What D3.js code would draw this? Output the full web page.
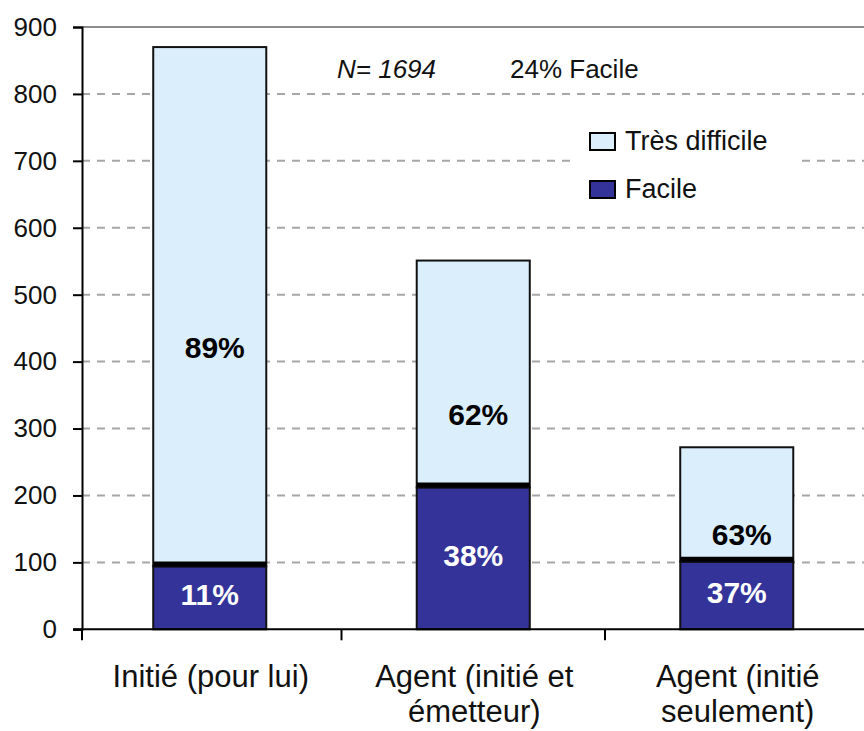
<!DOCTYPE html>
<html>
<head>
<meta charset="utf-8">
<script src="https://cdn.jsdelivr.net/npm/d3@7"></script>
<style>
	body{margin:0;background:#fff;}
	svg{display:block;font-family:"Liberation Sans", Arial, sans-serif;}
</style>
</head>
<body>
<div id="chart"></div>
<script>
// data
var categories = ["Initié (pour lui)", "Agent (initié et émetteur)", "Agent (initié seulement)"];
var categoryLines = [["Initié (pour lui)"], ["Agent (initié et", "émetteur)"], ["Agent (initié", "seulement)"]];
var facile = [94, 212, 101];
var tresDifficile = [776, 339, 171];
var pctFacile = ["11%", "38%", "37%"];
var pctTres = ["89%", "62%", "63%"];
var seriesNames = ["Très difficile", "Facile"];
var yTicks = [0, 100, 200, 300, 400, 500, 600, 700, 800, 900];
var noteN = "N= 1694";
var noteFacile = "24% Facile";

var W = 864, H = 731;
var colDark = "#333399", colLight = "#dbeefc";

var svg = d3.select('#chart').append('svg')
	.attr('width', W).attr('height', H);

var y = d3.scaleLinear().domain([0, 900]).range([629.3, 27]);
var x = d3.scaleBand().domain(categories)
	.range([78, 78 + 3*263.5])
	.paddingInner(0.571).paddingOuter(0.2855);
var axisX = 82;

// grid lines
svg.append('g').selectAll('line')
	.data(yTicks.filter(function(d){return d>0 && d<900;}))
	.enter().append('line')
	.attr('x1', axisX).attr('x2', W)
	.attr('y1', function(d){return y(d);}).attr('y2', function(d){return y(d);})
	.attr('stroke', '#a6a6a6').attr('stroke-width', 2)
	.attr('stroke-dasharray', '8,7');

// top border of plot area
svg.append('line')
	.attr('x1', axisX).attr('x2', W).attr('y1', y(900)).attr('y2', y(900))
	.attr('stroke', '#8c8c8c').attr('stroke-width', 2);

// legend background hides the grid
svg.append('rect')
	.attr('x', 576).attr('y', 118).attr('width', 220).attr('height', 94)
	.attr('fill', '#fff');

// bars
var rows = categories.map(function(c, i){
	return {cat: c, facile: facile[i], tres: tresDifficile[i]};
});
var stack = d3.stack().keys(['facile', 'tres'])(rows);
var fills = {facile: colDark, tres: colLight};

var gBars = svg.append('g');
stack.forEach(function(layer){
	gBars.selectAll('rect.' + layer.key)
		.data(layer)
		.enter().append('rect')
		.attr('class', layer.key)
		.attr('x', function(d){return x(d.data.cat);})
		.attr('width', x.bandwidth())
		.attr('y', function(d){return y(d[1]);})
		.attr('height', function(d){return y(d[0]) - y(d[1]);})
		.attr('fill', fills[layer.key])
		.attr('stroke', '#111').attr('stroke-width', 2);
});

// thick edge between the two segments
gBars.selectAll('line.sep')
	.data(rows)
	.enter().append('line')
	.attr('class', 'sep')
	.attr('x1', function(d){return x(d.cat);})
	.attr('x2', function(d){return x(d.cat) + x.bandwidth();})
	.attr('y1', function(d){return y(d.facile) - 2.5;})
	.attr('y2', function(d){return y(d.facile) - 2.5;})
	.attr('stroke', '#000').attr('stroke-width', 5);

// percentage labels
svg.append('g').selectAll('text')
	.data(rows)
	.enter().append('text')
	.attr('x', function(d){return x(d.cat) + x.bandwidth()/2;})
	.attr('y', function(d){return (y(0) + y(d.facile))/2 - 3;})
	.attr('dy', '0.35em')
	.attr('text-anchor', 'middle')
	.attr('font-size', 30).attr('font-weight', 'bold')
	.attr('fill', '#fff')
	.text(function(d, i){return pctFacile[i];});

// labels in the upper segment sit below its middle, as in the original
svg.append('g').selectAll('text')
	.data(rows)
	.enter().append('text')
	.attr('x', function(d){return x(d.cat) + x.bandwidth()/2 + 5;})
	.attr('y', function(d){
		var top = y(d.facile + d.tres), bot = y(d.facile);
		return (top + bot)/2 + Math.min(41, (bot - top)/2 - 27);
	})
	.attr('dy', '0.35em')
	.attr('text-anchor', 'middle')
	.attr('font-size', 30).attr('font-weight', 'bold')
	.attr('fill', '#000')
	.text(function(d, i){return pctTres[i];});

// y axis
var yAxis = d3.axisLeft(y).tickValues(yTicks).tickSize(9).tickPadding(16);
var gy = svg.append('g')
	.attr('transform', 'translate(' + axisX + ',0)')
	.call(yAxis);
gy.select('.domain').attr('stroke', '#000').attr('stroke-width', 2);
gy.selectAll('.tick line').attr('stroke', '#000').attr('stroke-width', 2);
gy.selectAll('.tick text')
	.attr('font-size', 26).attr('font-family', '"Liberation Sans", Arial, sans-serif')
	.attr('fill', '#111');

// x axis line and ticks between categories
svg.append('line')
	.attr('x1', 73).attr('x2', W).attr('y1', y(0)).attr('y2', y(0))
	.attr('stroke', '#000').attr('stroke-width', 2);
var bounds = [axisX].concat(categories.slice(1).map(function(c){return x(c) - x.step()*x.paddingInner()/2;}));
svg.append('g').selectAll('line')
	.data(bounds)
	.enter().append('line')
	.attr('x1', function(d){return d;}).attr('x2', function(d){return d;})
	.attr('y1', y(0)).attr('y2', y(0) + 11)
	.attr('stroke', '#000').attr('stroke-width', 2);

// category labels (second line kept just inside the bottom edge)
var gCat = svg.append('g').selectAll('text')
	.data(categories)
	.enter().append('text')
	.attr('text-anchor', 'middle')
	.attr('font-size', 31)
	.attr('fill', '#111')
	.attr('transform', function(d){return 'translate(' + (x(d) + x.bandwidth()/2 + 1) + ',687)';});
gCat.selectAll('tspan')
	.data(function(d, i){return categoryLines[i];})
	.enter().append('tspan')
	.attr('x', 0)
	.attr('y', function(d, j){return j*35;})
	.text(function(d){return d;});

// note at the top
svg.append('text')
	.attr('x', 337).attr('y', 78)
	.attr('font-size', 26).attr('font-style', 'italic').attr('fill', '#111')
	.text(noteN);
svg.append('text')
	.attr('x', 510).attr('y', 78)
	.attr('font-size', 26).attr('fill', '#111')
	.text(noteFacile);

// legend
var legend = svg.append('g').selectAll('g')
	.data(seriesNames)
	.enter().append('g')
	.attr('transform', function(d, i){return 'translate(590,' + (133 + i*48) + ')';});
legend.append('rect')
	.attr('width', 25).attr('height', 17)
	.attr('fill', function(d, i){return i==0 ? colLight : colDark;})
	.attr('stroke', '#000').attr('stroke-width', 2);
legend.append('text')
	.attr('x', 35).attr('y', 17)
	.attr('font-size', 27).attr('fill', '#111')
	.text(function(d){return d;});
</script>
</body>
</html>
